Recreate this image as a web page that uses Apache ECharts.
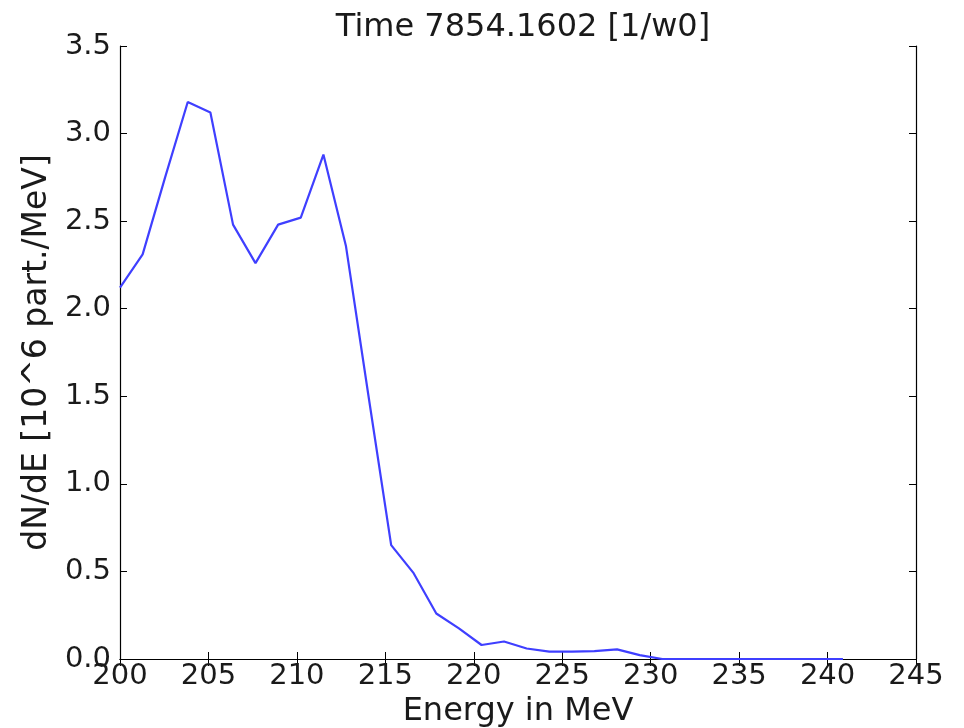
<!DOCTYPE html>
<html>
<head>
<meta charset="utf-8">
<script src="https://cdn.jsdelivr.net/npm/echarts@6/dist/echarts.min.js"></script>
<style>
html,body{margin:0;padding:0;background:#fff;}
#chart{width:964px;height:728px;}
</style>
</head>
<body>
<div id="chart"></div>
<script>
var energy = [200.00, 201.28, 202.55, 203.83, 205.11, 206.39, 207.66, 208.94, 210.22, 211.50, 212.77, 214.05, 215.33, 216.60, 217.88, 219.16, 220.44, 221.71, 222.99, 224.27, 225.55, 226.82, 228.10, 229.38, 230.66, 231.93, 233.21, 234.49, 235.76, 237.04, 238.32, 239.60, 240.87];
var dNdE = [2.12, 2.31, 2.75, 3.18, 3.12, 2.48, 2.26, 2.48, 2.52, 2.88, 2.36, 1.50, 0.65, 0.49, 0.26, 0.175, 0.08, 0.10, 0.06, 0.042, 0.042, 0.045, 0.055, 0.022, 0.0, 0.0, 0.0, 0.0, 0.0, 0.0, 0.0, 0.0, 0.0];
var titleText = 'Time 7854.1602 [1/w0]';
var xName = 'Energy in MeV';
var yName = 'dN/dE [10^6 part./MeV]';

var FONT = 'DejaVu Sans';
var chart = echarts.init(document.getElementById('chart'), null, {renderer: 'canvas'});
var data = energy.map(function (e, i) { return [e, dNdE[i]]; });
var tickStyle = {show: true, inside: true, length: 7, lineStyle: {color: '#000', width: 1}};
var lineStyle = {show: true, lineStyle: {color: '#000', width: 1.2}};
chart.setOption({
  animation: false,
  backgroundColor: '#fff',
  title: {
    text: titleText, left: 518, textAlign: 'center', top: 7,
    textStyle: {fontFamily: FONT, fontSize: 32, fontWeight: 'normal', color: '#1a1a1a'}
  },
  grid: {left: 120, right: 48, top: 46, bottom: 69, outerBoundsMode: 'none', containLabel: false},
  xAxis: [{
    type: 'value', min: 200, max: 245, interval: 5, position: 'bottom',
    axisLine: lineStyle, axisTick: tickStyle, splitLine: {show: false},
    axisLabel: {fontFamily: FONT, fontSize: 29, color: '#1a1a1a', margin: 3},
    name: xName, nameLocation: 'middle', nameGap: 37,
    nameTextStyle: {fontFamily: FONT, fontSize: 32, color: '#1a1a1a'}
  }, {
    type: 'value', min: 200, max: 245, interval: 5, position: 'top',
    axisLine: lineStyle, axisTick: tickStyle, splitLine: {show: false},
    axisLabel: {show: false}
  }],
  yAxis: [{
    type: 'value', min: 0, max: 3.5, interval: 0.5, position: 'left',
    axisLine: lineStyle, axisTick: tickStyle, splitLine: {show: false},
    axisLabel: {fontFamily: FONT, fontSize: 29, color: '#1a1a1a', margin: 9,
      formatter: function (v) { return v.toFixed(1); }},
    name: yName, nameLocation: 'middle', nameGap: 66,
    nameTextStyle: {fontFamily: FONT, fontSize: 33, color: '#1a1a1a'}
  }, {
    type: 'value', min: 0, max: 3.5, interval: 0.5, position: 'right',
    axisLine: lineStyle, axisTick: tickStyle, splitLine: {show: false},
    axisLabel: {show: false}
  }],
  series: [{
    type: 'line', data: data, xAxisIndex: 0, yAxisIndex: 0,
    showSymbol: false, symbol: 'none',
    lineStyle: {color: '#3f3fff', width: 2.2},
    z: 1
  }]
});
</script>
</body>
</html>
